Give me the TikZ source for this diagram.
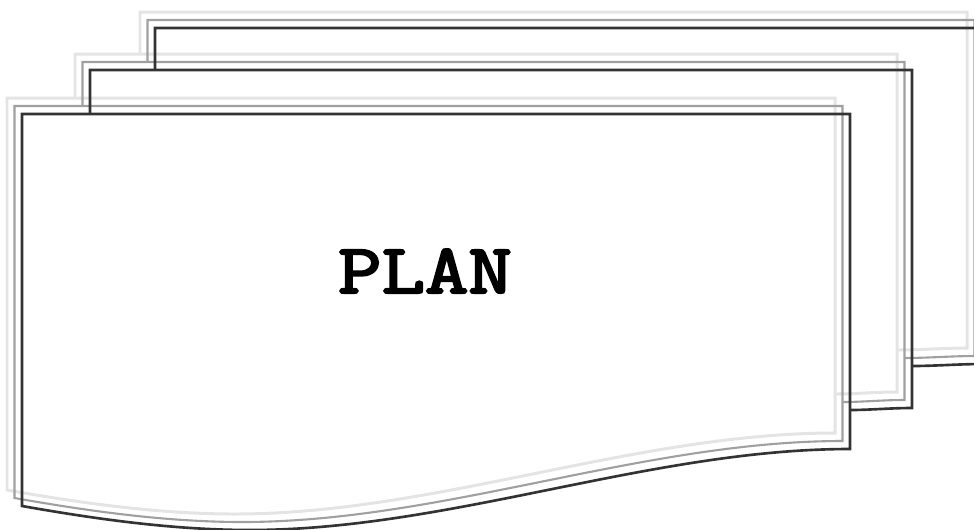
\documentclass[tikz,border=0pt]{standalone}
\usepackage{fontspec}
\newfontfamily\planfont{Latin Modern Mono}[FakeBold=3]
\usepackage{tikz}
\usetikzlibrary{positioning}
\definecolor{edgeDark}{RGB}{51, 51, 51}
\definecolor{edgeMid}{RGB}{160, 160, 160}
\definecolor{edgeLight}{RGB}{228, 228, 228}

\begin{document}
\begin{tikzpicture}[
    x=0.02cm, y=-0.02cm,
    sheetdark/.style={draw=edgeDark, line width=1.5pt},
    sheetmid/.style={draw=edgeMid, line width=1.2pt},
    sheetlight/.style={draw=edgeLight, line width=1.7pt},
    sheets/.pic={
        % front sheet with wavy foot
        \draw[pic actions] (22,114) -- (850,114) -- (850,449)
            .. controls (650,449) and (450,530) .. (250,530)
            .. controls (170,530) and (90,518) .. (22,506) -- cycle;
        % middle sheet
        \draw[pic actions] (90,114) -- (90,70) -- (912,70) -- (912,408)
            .. controls (890,408) and (870,410) .. (850,410);
        % back sheet
        \draw[pic actions] (155,70) -- (155,28) -- (982,28) -- (982,364)
            .. controls (960,364) and (935,366) .. (912,366);
    }
]
\useasboundingbox (0,0) rectangle (974,529);
\clip (0,0) rectangle (974,529);

\pic[sheetlight] (shadowb) at (-15,-16) {sheets};
\pic[sheetmid]   (shadowa) at (-7.5,-8) {sheets};
\pic[sheetdark]  (stack)   at (0,0)     {sheets};

\node[font=\planfont\fontsize{40}{40}\selectfont, xscale=1.2] (title) at (425,271) {PLAN};
\end{tikzpicture}
\end{document}
